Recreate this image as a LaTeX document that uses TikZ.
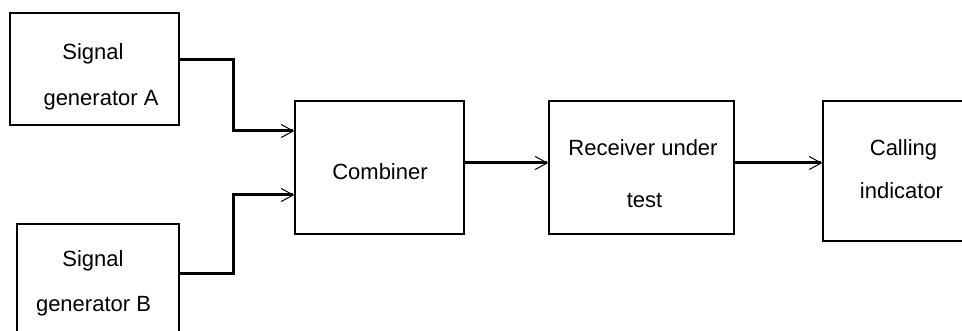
\documentclass[tikz,border=0pt]{standalone}
\usepackage{fontspec}
\setmainfont{Liberation Sans}
\usetikzlibrary{arrows.meta}
\begin{document}
\begin{tikzpicture}[x=1pt,y=-1pt,
  blk/.style={draw,line width=1.5pt,inner sep=0pt,minimum width=#1},
  lbl/.style={anchor=base,inner sep=0pt,font=\fontsize{22}{26}\selectfont},
  arr/.style={line width=3pt,-{Straight Barb[length=12pt,width=13pt,line width=1pt]}}]
\clip (0,0) rectangle (962,331);
\fill[white] (0,0) rectangle (962,331);
% boxes
\node[blk=169pt,minimum height=112pt] (A) at (94.5,69) {};
\node[blk=162pt,minimum height=128pt] (B) at (98,288) {};
\node[blk=169pt,minimum height=133pt] (C) at (379.5,167.5) {};
\node[blk=185pt,minimum height=133pt] (R) at (641.5,167.5) {};
\node[blk=177pt,minimum height=140pt] (I) at (911.5,171) {};
% texts
\node[lbl] (a1) at (93,60) {Signal};
\node[lbl] (a2) at (101,106) {generator A};
\node[lbl] (b1) at (93,267) {Signal};
\node[lbl] (b2) at (93.5,312) {generator B};
\node[lbl] (c1) at (380,180) {Combiner};
\node[lbl] (r1) at (643,156) {Receiver under};
\node[lbl] (r2) at (644.5,208) {test};
\node[lbl] (i1) at (903.5,156) {Calling};
\node[lbl] (i2) at (901.5,199) {indicator};
% connectors
\draw[arr] ([yshift=9pt]A.east) -- ++(54,0) |- ([yshift=36.5pt]C.west);
\draw[arr] ([yshift=14pt]B.east) -- ++(54,0) |- ([yshift=-27.5pt]C.west);
\draw[arr] ([yshift=4.5pt]C.east) -- ([yshift=4.5pt]R.west);
\draw[arr] ([yshift=4.5pt]R.east) -- ([yshift=8pt]I.west);
\end{tikzpicture}
\end{document}
